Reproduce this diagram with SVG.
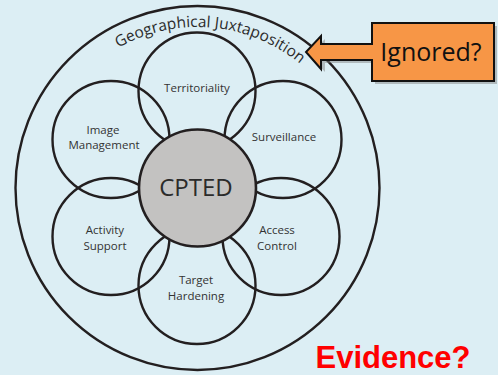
<svg xmlns="http://www.w3.org/2000/svg" xmlns:xlink="http://www.w3.org/1999/xlink" width="498" height="375" viewBox="0 0 498 375">
  <defs>
    <style>
      .ring { fill: none; stroke: #231f20; stroke-width: 2.4; }
      .petal { fill: none; stroke: #231f20; stroke-width: 2.4; }
      .core { fill: #c3c2c1; stroke: #231f20; stroke-width: 2.6; }
      .lbl { font-family: "Open Sans", "Noto Sans", sans-serif; font-size: 11.5px; fill: #333; text-anchor: middle; }
      .core-t { font-family: "Open Sans", "Noto Sans", sans-serif; font-size: 24px; fill: #2b2b2b; text-anchor: middle; }
      .arc-t { font-family: "Open Sans", "Noto Sans", sans-serif; font-size: 15.5px; fill: #2b2b2b; }
      .call { fill: #f79646; stroke: #111; stroke-width: 2; stroke-linejoin: miter; }
      .call-t { font-family: "Open Sans", "Noto Sans", sans-serif; font-size: 25px; fill: #111; text-anchor: middle; }
      .evi { font-family: "Liberation Sans", Arial, sans-serif; font-weight: bold; font-size: 31px; fill: #ff0000; text-anchor: middle; }
    </style>
    <path id="arcPath" d="M36.5,188 A161,161 0 0 1 358.5,188"/>
  </defs>
  <rect width="498" height="375" fill="#dceef4"/>

  <g id="outer">
    <circle class="ring" cx="197.5" cy="188" r="182"/>
    <text class="arc-t"><textPath xlink:href="#arcPath" href="#arcPath" startOffset="267" text-anchor="middle">Geographical Juxtaposition</textPath></text>
  </g>

  <g id="territoriality">
    <circle class="petal" cx="197" cy="91" r="58.5"/>
    <text class="lbl" x="197" y="92">Territoriality</text>
  </g>
  <g id="surveillance">
    <circle class="petal" cx="283" cy="139.5" r="58.5"/>
    <text class="lbl" x="284" y="141">Surveillance</text>
  </g>
  <g id="image-management">
    <circle class="petal" cx="111" cy="139.5" r="58.5"/>
    <text class="lbl" x="103" y="134">Image</text>
    <text class="lbl" x="104" y="149">Management</text>
  </g>
  <g id="activity-support">
    <circle class="petal" cx="111" cy="236.5" r="58.5"/>
    <text class="lbl" x="105" y="234">Activity</text>
    <text class="lbl" x="105" y="250">Support</text>
  </g>
  <g id="access-control">
    <circle class="petal" cx="281" cy="236.5" r="58.5"/>
    <text class="lbl" x="277" y="234">Access</text>
    <text class="lbl" x="277" y="250">Control</text>
  </g>
  <g id="target-hardening">
    <circle class="petal" cx="197" cy="285.5" r="58.5"/>
    <text class="lbl" x="196" y="284">Target</text>
    <text class="lbl" x="196" y="300">Hardening</text>
  </g>

  <g id="cpted">
    <circle class="core" cx="197.5" cy="188" r="58.5"/>
    <text class="core-t" x="196" y="196">CPTED</text>
  </g>

  <g id="ignored">
    <polygon points="375,26 497,26 497,84 375,84 375,63 325,63 325,72 309,55 325,39 325,47 375,47" fill="#7a7a7a" opacity="0.45"/>
    <polygon class="call" points="372,23 494,23 494,81 372,81 372,60 321,60 321,69 306,52 321,36 321,44 372,44"/>
    <text class="call-t" x="431" y="61">Ignored?</text>
  </g>

  <g id="evidence">
    <text class="evi" x="393" y="368">Evidence?</text>
  </g>
</svg>
